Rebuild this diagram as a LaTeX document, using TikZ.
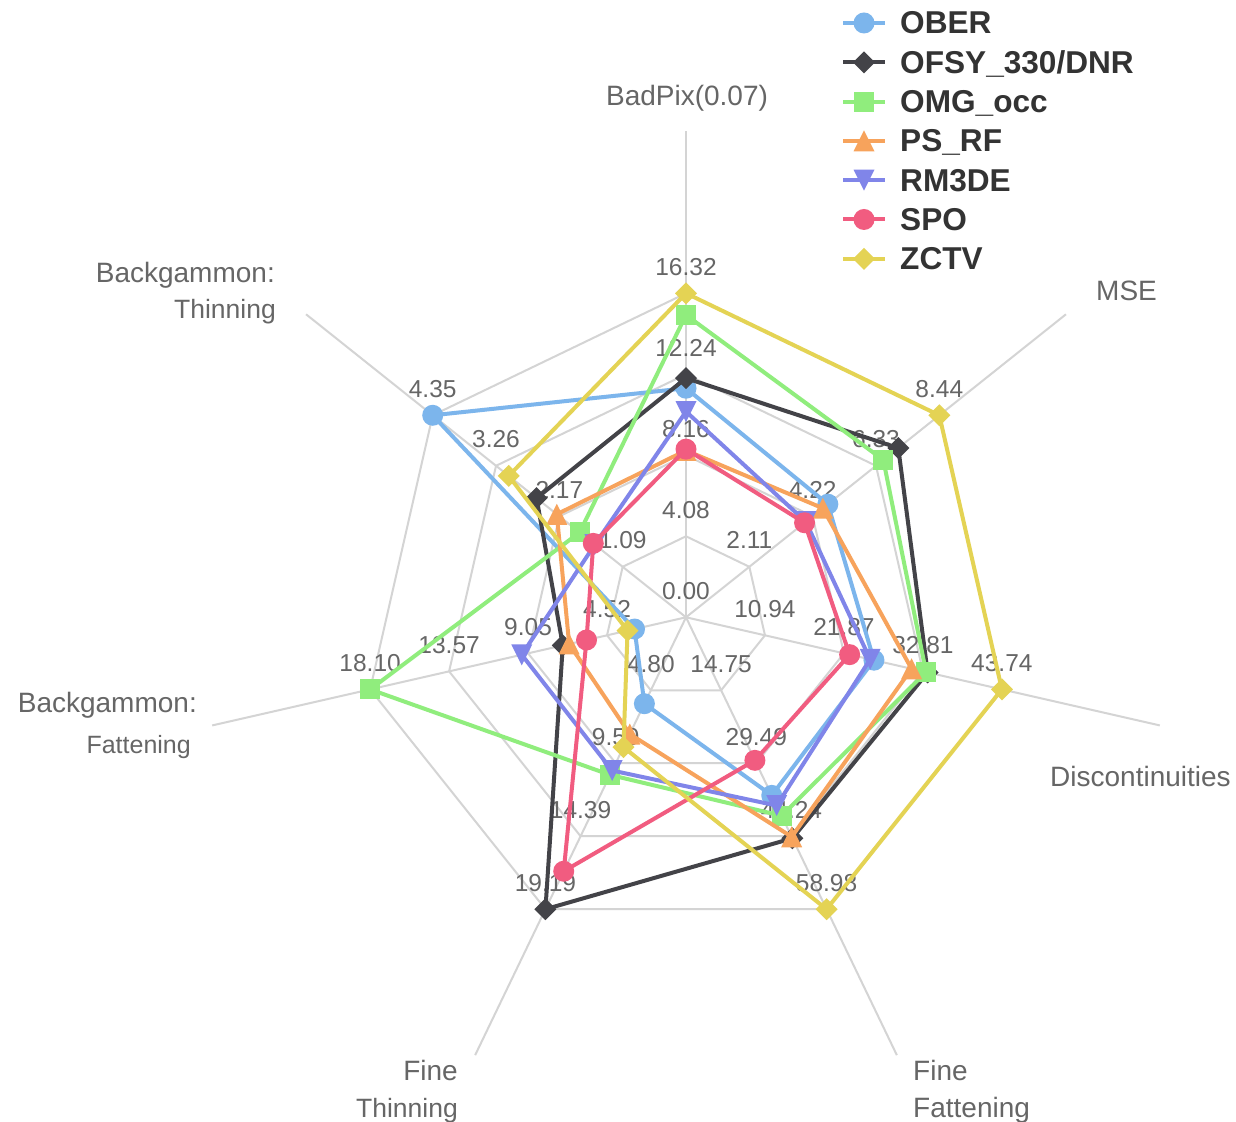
\documentclass[tikz,border=0pt]{standalone}
\usepackage{fontspec}
\setmainfont{Liberation Sans}
\usetikzlibrary{calc}
\definecolor{cOBER}{HTML}{7CB5EC}
\definecolor{cOFSY}{HTML}{434348}
\definecolor{cOMG}{HTML}{90ED7D}
\definecolor{cPSRF}{HTML}{F7A35C}
\definecolor{cRM}{HTML}{8085E9}
\definecolor{cSPO}{HTML}{F15C80}
\definecolor{cZCTV}{HTML}{E4D354}
\definecolor{gridc}{HTML}{D4D4D4}
\definecolor{labc}{HTML}{666666}
\definecolor{legc}{HTML}{333333}

\newcommand\axticks[5]{%
  \foreach \t [count=\k] in {#2,#3,#4,#5}
    \node[tick, yshift=18pt] (tk#1-\k) at ({90-#1*360/7}:{\k*81}) {\t};
}
\newcommand\radarseries[4]{%
  \foreach \f [count=\i from 0] in {#4}
    \coordinate (#1-\i) at ({90-\i*360/7}:{\f*324});
  \draw[serline, draw=#2] (#1-0) -- (#1-1) -- (#1-2) -- (#1-3) -- (#1-4) -- (#1-5) -- (#1-6) -- cycle;
  \foreach \i in {0,...,6} \pic[fill=#2] at (#1-\i) {#3};
}
\newcommand\legentry[5]{% index, name, colour, marker, text
  \coordinate (#2-a) at (843,{1098-#1*39.3});
  \coordinate (#2-b) at (885,{1098-#1*39.3});
  \coordinate (#2-m) at (864,{1098-#1*39.3});
  \draw[line width=4pt, draw=#3] (#2-a) -- (#2-b);
  \pic[fill=#3] at (#2-m) {#4};
  \node[legtext] (#2-t) at (900,{1087-#1*39.3}) {#5};
}

\begin{document}
\begin{tikzpicture}[x=1pt,y=1pt,
  serline/.style={line width=4pt, line join=round},
  tick/.style={anchor=base, inner sep=0pt, text=labc, font=\fontsize{24.5}{26}\selectfont},
  axlab/.style={inner sep=0pt, text=labc, font=\fontsize{28}{30}\selectfont},
  axlabmd/.style={inner sep=0pt, text=labc, font=\fontsize{26.5}{28}\selectfont},
  axlabsm/.style={inner sep=0pt, text=labc, font=\fontsize{25}{27}\selectfont},
  legtext/.style={anchor=base west, inner sep=0pt, text=legc, font=\bfseries\fontsize{31.6}{33}\selectfont},
  gridline/.style={draw=gridc, line width=2pt},
  mcircle/.pic={\fill (0,0) circle (10.5);},
  msquare/.pic={\fill (-10,-10) rectangle (10,10);},
  mdiamond/.pic={\fill (0,11) -- (11,0) -- (0,-11) -- (-11,0) -- cycle;},
  mtriup/.pic={\fill (0,10.5) -- (10.5,-10.5) -- (-10.5,-10.5) -- cycle;},
  mtridown/.pic={\fill (0,-10.5) -- (10.5,10.5) -- (-10.5,10.5) -- cycle;},
]
\useasboundingbox (0,0) rectangle (1236,1121);
\fill[white] (0,0) rectangle (1236,1121);

\begin{scope}[shift={(686,503.7)}]
  % grid rings
  \foreach \k in {1,...,4}
    \draw[gridline] (90:{\k*81}) -- ({90-360/7}:{\k*81}) -- ({90-2*360/7}:{\k*81}) -- ({90-3*360/7}:{\k*81}) -- ({90-4*360/7}:{\k*81}) -- ({90-5*360/7}:{\k*81}) -- ({90-6*360/7}:{\k*81}) -- cycle;
  % axis lines
  \coordinate (ctr) at (0,0);
  \foreach \i in {0,...,6} {
    \coordinate (axend\i) at ({90-\i*360/7}:486);
    \draw[gridline] (ctr) -- (axend\i);
  }
  % tick labels
  \node[tick, yshift=18pt] (tk0-0) at (ctr) {0.00};
  \axticks{0}{4.08}{8.16}{12.24}{16.32}
  \axticks{1}{2.11}{4.22}{6.33}{8.44}
  \axticks{2}{10.94}{21.87}{32.81}{43.74}
  \axticks{3}{14.75}{29.49}{44.24}{58.98}
  \axticks{4}{4.80}{9.59}{14.39}{19.19}
  \axticks{5}{4.52}{9.05}{13.57}{18.10}
  \axticks{6}{1.09}{2.17}{3.26}{4.35}
  % series
  \radarseries{OBER}{cOBER}{mcircle}{0.707,0.56,0.595,0.61,0.296,0.163,1.0}
  \radarseries{OFSY}{cOFSY}{mdiamond}{0.738,0.838,0.765,0.757,1.0,0.39,0.59}
  \radarseries{OMG}{cOMG}{msquare}{0.933,0.779,0.76,0.68,0.54,1.0,0.42}
  \radarseries{PSRF}{cPSRF}{mtriup}{0.515,0.54,0.714,0.752,0.40,0.37,0.51}
  \radarseries{RM}{cRM}{mtridown}{0.635,0.473,0.583,0.645,0.525,0.52,0.36}
  \radarseries{SPO}{cSPO}{mcircle}{0.519,0.468,0.518,0.49,0.87,0.315,0.366}
  \radarseries{ZCTV}{cZCTV}{mdiamond}{1.0,1.0,1.0,1.0,0.445,0.185,0.70}
\end{scope}

% axis titles
\node[axlab, anchor=base] (lBad) at (687,1015) {BadPix(0.07)};
\node[axlab, anchor=base west] (lMSE) at (1096,820) {MSE};
\node[axlab, anchor=base west] (lDisc) at (1050,334) {Discontinuities};
\node[axlab, anchor=base west] (lFF1) at (913,40) {Fine};
\node[axlab, anchor=base west] (lFF2) at (913,4) {Fattening};
\node[axlab, anchor=base east] (lFT1) at (458,40) {Fine};
\node[axlabmd, anchor=base east] (lFT2) at (458,4) {Thinning};
\node[axlab, anchor=base east] (lBF1) at (197,408) {Backgammon:};
\node[axlabsm, anchor=base east] (lBF2) at (191,367) {Fattening};
\node[axlab, anchor=base east] (lBT1) at (275,838) {Backgammon:};
\node[axlabmd, anchor=base east] (lBT2) at (276,802) {Thinning};

% legend
\legentry{0}{gOBER}{cOBER}{mcircle}{OBER}
\legentry{1}{gOFSY}{cOFSY}{mdiamond}{OFSY\_330/DNR}
\legentry{2}{gOMG}{cOMG}{msquare}{OMG\_occ}
\legentry{3}{gPSRF}{cPSRF}{mtriup}{PS\_RF}
\legentry{4}{gRM}{cRM}{mtridown}{RM3DE}
\legentry{5}{gSPO}{cSPO}{mcircle}{SPO}
\legentry{6}{gZCTV}{cZCTV}{mdiamond}{ZCTV}
\end{tikzpicture}
\end{document}
